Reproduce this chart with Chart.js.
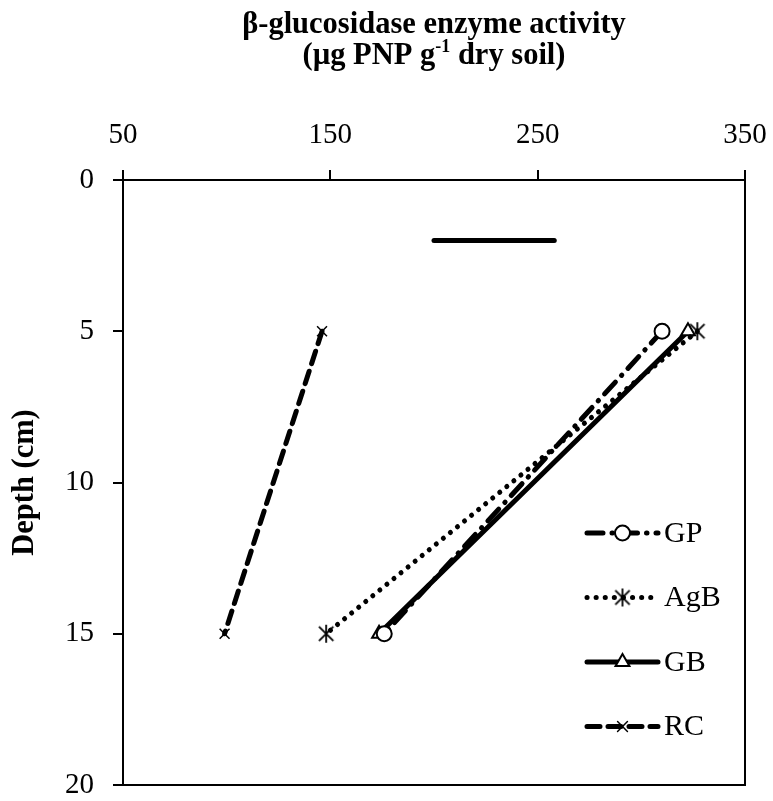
<!DOCTYPE html>
<html>
<head>
<meta charset="utf-8">
<script src="https://cdn.jsdelivr.net/npm/chart.js@4"></script>
<style>
  html, body { margin: 0; padding: 0; background: #fff; }
  #wrap { width: 773px; height: 801px; }
</style>
</head>
<body>
<div id="wrap"><canvas id="chart" width="773" height="801"></canvas></div>
<script>
// Dados
const depths = [5, 15];
const gpValues = [310, 176];
const agbValues = [327, 148];
const gbValues = [322.5, 173.5];
const rcValues = [146, 99];
const seriesNames = ['GP', 'AgB', 'GB', 'RC'];
const xTicks = [50, 150, 250, 350];
const yTicks = [0, 5, 10, 15, 20];
const lsdRange = [200, 258];
const lsdDepth = 2;

const titleLine1 = 'β-glucosidase enzyme activity';
const titleLine2a = '(µg PNP g';
const titleSup = '-1';
const titleLine2b = ' dry soil)';
const yTitle = 'Depth (cm)';

const FONT = '"Liberation Serif", "Times New Roman", serif';

// Marcador em asterisco (vertical + X)
function makeAsterisk(r) {
  const c = document.createElement('canvas');
  const s = r * 2 + 4;
  c.width = s; c.height = s;
  const g = c.getContext('2d');
  const m = s / 2;
  g.strokeStyle = '#000';
  g.lineWidth = 1.8;
  g.beginPath();
  g.moveTo(m, m - r); g.lineTo(m, m + r);
  const d = r * 0.8;
  g.moveTo(m - d, m - d); g.lineTo(m + d, m + d);
  g.moveTo(m + d, m - d); g.lineTo(m - d, m + d);
  g.stroke();
  return c;
}
const asterisk = makeAsterisk(9);

function toPoints(values) {
  return depths.map((d, i) => ({ x: values[i], y: d }));
}

const datasets = [
  {
    label: seriesNames[0], data: toPoints(gpValues),
    borderColor: '#000', borderWidth: 5, borderDash: [16, 9, 0.5, 9], borderCapStyle: 'round',
    pointStyle: 'circle', pointRadius: 7.5, pointBackgroundColor: '#fff', pointBorderColor: '#000', pointBorderWidth: 2
  },
  {
    label: seriesNames[1], data: toPoints(agbValues),
    borderColor: '#000', borderWidth: 5, borderDash: [0.1, 9], borderCapStyle: 'round',
    pointStyle: asterisk, pointRadius: 9, pointBackgroundColor: '#000', pointBorderColor: '#000', pointBorderWidth: 2
  },
  {
    label: seriesNames[2], data: toPoints(gbValues),
    borderColor: '#000', borderWidth: 5, borderDash: [], borderCapStyle: 'round',
    pointStyle: 'triangle', pointRadius: 8, pointBackgroundColor: '#fff', pointBorderColor: '#000', pointBorderWidth: 2
  },
  {
    label: seriesNames[3], data: toPoints(rcValues),
    borderColor: '#000', borderWidth: 5, borderDash: [13, 8], borderCapStyle: 'round',
    pointStyle: 'crossRot', pointRadius: 7, pointBackgroundColor: '#000', pointBorderColor: '#000', pointBorderWidth: 1.5
  },
  {
    label: '', data: lsdRange.map(v => ({ x: v, y: lsdDepth })),
    borderColor: '#000', borderWidth: 5, borderCapStyle: 'round', pointRadius: 0
  }
];

// Título do eixo X com sobrescrito
const titlePlugin = {
  id: 'topTitle',
  afterDraw(chart) {
    const { ctx, chartArea } = chart;
    const cx = (chartArea.left + chartArea.right) / 2;
    ctx.save();
    ctx.fillStyle = '#000';
    ctx.textBaseline = 'alphabetic';
    ctx.textAlign = 'left';
    ctx.font = 'bold 30.5px ' + FONT;
    const w1 = ctx.measureText(titleLine1).width;
    ctx.fillText(titleLine1, cx - w1 / 2, 33);
    const parts = [[titleLine2a, 30.5, 0], [titleSup, 18, -12], [titleLine2b, 30.5, 0]];
    let total = 0;
    parts.forEach(p => { ctx.font = 'bold ' + p[1] + 'px ' + FONT; total += ctx.measureText(p[0]).width; });
    let x = cx - total / 2;
    parts.forEach(p => {
      ctx.font = 'bold ' + p[1] + 'px ' + FONT;
      ctx.fillText(p[0], x, 64 + p[2]);
      x += ctx.measureText(p[0]).width;
    });
    ctx.restore();
  }
};

// Moldura da área do gráfico
const framePlugin = {
  id: 'frame',
  afterDatasetsDraw(chart) {
    const { ctx, chartArea } = chart;
    ctx.save();
    ctx.strokeStyle = '#000';
    ctx.lineWidth = 2;
    ctx.beginPath();
    ctx.moveTo(chartArea.left, chartArea.bottom);
    ctx.lineTo(chartArea.right, chartArea.bottom);
    ctx.lineTo(chartArea.right, chartArea.top);
    ctx.stroke();
    ctx.restore();
  }
};

// Legenda desenhada dentro da área do gráfico
const legendPlugin = {
  id: 'innerLegend',
  afterDraw(chart) {
    const { ctx, chartArea } = chart;
    const x0 = chartArea.right - 158;
    const x1 = chartArea.right - 87;
    const xm = (x0 + x1) / 2;
    const xt = chartArea.right - 81;
    let y = chartArea.top + 353;
    ctx.save();
    chart.data.datasets.forEach(ds => {
      if (!ds.label) return;
      ctx.strokeStyle = ds.borderColor;
      ctx.lineWidth = ds.borderWidth;
      ctx.lineCap = ds.borderCapStyle || 'butt';
      ctx.setLineDash(ds.borderDash || []);
      ctx.beginPath();
      ctx.moveTo(x0, y);
      ctx.lineTo(x1, y);
      ctx.stroke();
      ctx.setLineDash([]);
      ctx.fillStyle = ds.pointBackgroundColor;
      ctx.strokeStyle = ds.pointBorderColor;
      ctx.lineWidth = ds.pointBorderWidth;
      Chart.helpers.drawPoint(ctx, { pointStyle: ds.pointStyle, radius: ds.pointRadius, rotation: 0, borderWidth: ds.pointBorderWidth }, xm, y);
      ctx.fillStyle = '#000';
      ctx.font = '30px ' + FONT;
      ctx.textAlign = 'left';
      ctx.textBaseline = 'middle';
      ctx.fillText(ds.label, xt, y + 1);
      y += 64.5;
    });
    ctx.restore();
  }
};

function noScalePadding(scale) {
  scale.paddingLeft = 0;
  scale.paddingRight = 0;
  scale.paddingTop = 0;
  scale.paddingBottom = 0;
}

new Chart(document.getElementById('chart'), {
  type: 'scatter',
  data: { datasets },
  options: {
    responsive: false,
    animation: false,
    events: [],
    showLine: true,
    layout: { padding: { left: 0, top: 0, right: 28, bottom: 16 } },
    plugins: { legend: { display: false }, tooltip: { enabled: false } },
    scales: {
      x: {
        type: 'linear', position: 'top', min: 50, max: 350,
        afterBuildTicks(scale) { scale.ticks = xTicks.map(v => ({ value: v })); },
        afterFit(scale) { scale.height = 180; noScalePadding(scale); },
        ticks: { color: '#000', font: { family: FONT, size: 29 }, padding: 17, autoSkip: false, maxRotation: 0 },
        grid: { drawOnChartArea: false, drawTicks: true, tickLength: 10, color: '#000', lineWidth: 2 },
        border: { color: '#000', width: 2 }
      },
      y: {
        type: 'linear', position: 'left', reverse: true, min: 0, max: 20,
        afterBuildTicks(scale) { scale.ticks = yTicks.map(v => ({ value: v })); },
        afterFit(scale) { scale.width = 123; noScalePadding(scale); },
        ticks: { color: '#000', font: { family: FONT, size: 29 }, padding: 19, autoSkip: false },
        grid: { drawOnChartArea: false, drawTicks: true, tickLength: 10, color: '#000', lineWidth: 2 },
        border: { color: '#000', width: 2 },
        title: { display: true, text: yTitle, color: '#000', font: { family: FONT, size: 30.5, weight: 'bold' }, padding: { top: 7, bottom: 0 } }
      }
    }
  },
  plugins: [titlePlugin, framePlugin, legendPlugin]
});
</script>
</body>
</html>
